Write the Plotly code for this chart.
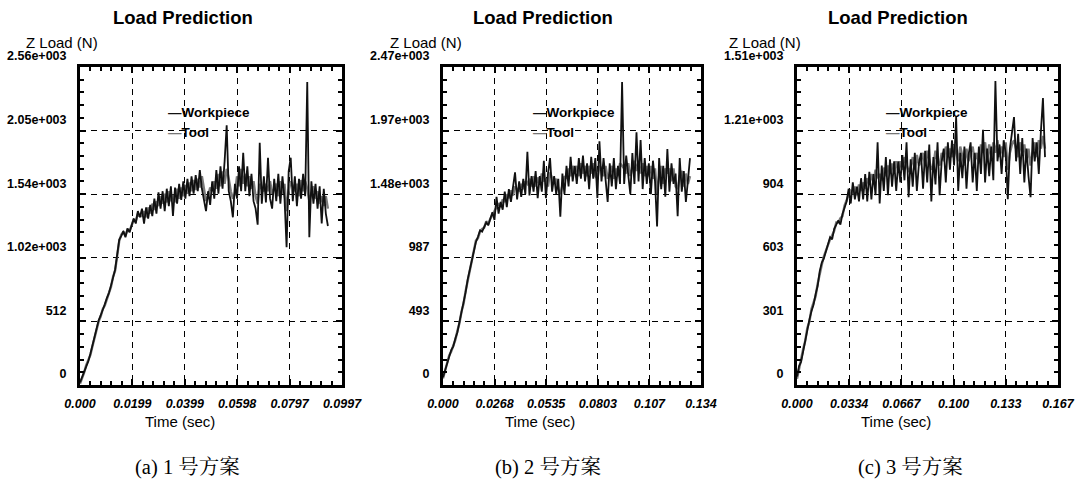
import numpy as np
import plotly.graph_objects as go

# ------------------------------------------------------------------ data
# (a) scheme 1
time_end_a = 0.0943
work_a = [20, 60, 110, 150, 190, 250, 320, 390, 450, 520,
          560, 600, 650, 700, 740, 800, 860, 930, 1050, 1170,
          1200, 1240, 1190, 1260, 1230, 1290, 1340, 1300, 1400, 1350,
          1420, 1300, 1430, 1340, 1450, 1360, 1500, 1380, 1550, 1420,
          1560, 1400, 1580, 1440, 1600, 1360, 1590, 1460, 1620, 1490,
          1640, 1500, 1660, 1520, 1680, 1540, 1690, 1560, 1730, 1580,
          1500, 1400, 1560, 1450, 1640, 1500, 1730, 1540, 1760, 1580,
          1800, 2090, 1560, 1480, 1350, 1620, 1500, 1760, 1560, 1870,
          1560, 1760, 1520, 1700, 1480, 1420, 1290, 1950, 1460, 1680,
          1470, 1830, 1500, 1420, 1660, 1480, 1700, 1460, 1680, 1500,
          1110, 1720, 1830, 1480, 1680, 1440, 1660, 1500, 1700, 1520,
          2440, 1190, 1640, 1460, 1620, 1420, 1600, 1300, 1580, 1380,
          1280]
tool_a = [10, 50, 100, 160, 200, 240, 310, 380, 460, 510,
          550, 610, 640, 690, 750, 790, 870, 920, 1040, 1160,
          1210, 1230, 1200, 1250, 1240, 1280, 1330, 1320, 1380, 1360,
          1360, 1400, 1350, 1430, 1380, 1460, 1410, 1480, 1440, 1520,
          1460, 1540, 1470, 1560, 1480, 1530, 1470, 1580, 1500, 1590,
          1520, 1610, 1540, 1630, 1560, 1650, 1570, 1660, 1590, 1680,
          1560, 1480, 1520, 1590, 1560, 1640, 1580, 1700, 1600, 1720,
          1620, 1740, 1660, 1560, 1500, 1540, 1680, 1600, 1740, 1620,
          1700, 1600, 1680, 1580, 1640, 1520, 1460, 1620, 1580, 1560,
          1620, 1560, 1640, 1540, 1580, 1620, 1520, 1640, 1540, 1620,
          1400, 1560, 1640, 1600, 1560, 1620, 1520, 1650, 1560, 1640,
          1580, 1480, 1540, 1600, 1500, 1560, 1460, 1520, 1440, 1520,
          1420]
xmax_a, ymax_a = 0.09966, 2560
xticks_a = ["0.000", "0.0199", "0.0399", "0.0598", "0.0797", "0.0997"]
yticks_a = ["0", "512", "1.02e+003", "1.54e+003", "2.05e+003", "2.56e+003"]

# (b) scheme 2
time_end_b = 0.1281
work_b = [60, 120, 170, 220, 270, 300, 360, 410, 490, 560,
          640, 720, 820, 900, 970, 1060, 1110, 1150, 1200, 1190,
          1230, 1260, 1240, 1300, 1340, 1280, 1460, 1330, 1420, 1360,
          1500, 1380, 1520, 1420, 1560, 1650, 1440, 1580, 1460, 1600,
          1480, 1810, 1470, 1620, 1500, 1660, 1450, 1620, 1500, 1740,
          1450, 1640, 1760, 1500, 1620, 1480, 1600, 1305, 1640, 1480,
          1700, 1540, 1770, 1580, 1700, 1560, 1760, 1600, 1780, 1580,
          1720, 1520, 1770, 1600, 1760, 1450, 1890, 1580, 1760, 1560,
          1420, 1720, 1540, 1760, 1520, 1700, 1560, 2350, 1560, 1780,
          1620, 1480, 1800, 1560, 1960, 1580, 1900, 1520, 1760, 1560,
          1720, 1480, 1740, 1580, 1230, 1760, 1520, 1700, 1460, 1830,
          1500, 1720, 1560, 1640, 1310, 1760, 1500, 1660, 1420, 1600,
          1760]
tool_b = [50, 110, 180, 230, 260, 310, 350, 420, 480, 570,
          630, 730, 810, 890, 980, 1050, 1120, 1140, 1190, 1210,
          1220, 1270, 1250, 1290, 1320, 1360, 1380, 1410, 1380, 1440,
          1420, 1480, 1450, 1510, 1470, 1540, 1520, 1510, 1560, 1520,
          1580, 1560, 1600, 1540, 1620, 1540, 1610, 1560, 1640, 1580,
          1600, 1540, 1650, 1600, 1560, 1600, 1520, 1480, 1560, 1620,
          1600, 1680, 1620, 1700, 1640, 1700, 1620, 1720, 1640, 1700,
          1620, 1700, 1640, 1720, 1620, 1600, 1700, 1680, 1620, 1700,
          1600, 1640, 1700, 1600, 1680, 1620, 1720, 1700, 1680, 1640,
          1720, 1620, 1680, 1740, 1660, 1740, 1640, 1720, 1620, 1700,
          1620, 1700, 1600, 1680, 1480, 1620, 1700, 1560, 1680, 1640,
          1680, 1580, 1680, 1540, 1520, 1620, 1660, 1540, 1640, 1560,
          1620]
xmax_b, ymax_b = 0.1338, 2467
xticks_b = ["0.000", "0.0268", "0.0535", "0.0803", "0.107", "0.134"]
yticks_b = ["0", "493", "987", "1.48e+003", "1.97e+003", "2.47e+003"]

# (c) scheme 3
time_end_c = 0.1585
work_c = [40, 90, 110, 160, 220, 260, 310, 350, 380, 430,
          470, 540, 580, 600, 630, 660, 700, 690, 740, 760,
          780, 760, 810, 840, 870, 930, 860, 960, 880, 940,
          870, 980, 880, 1000, 870, 1010, 880, 1000, 900, 1150,
          860, 1040, 920, 1080, 900, 1070, 940, 1060, 920, 1060,
          960, 1090, 970, 1150, 890, 1070, 940, 1100, 920, 1050,
          1100, 930, 1110, 960, 1140, 870, 1080, 950, 1150, 900,
          1060, 1120, 960, 1150, 1020, 1160, 1040, 1270, 920, 1100,
          980, 1130, 930, 1090, 1150, 960, 1100, 920, 1130, 1000,
          1210, 960, 1120, 990, 1130, 970, 1440, 1060, 1140, 1000,
          1160, 1100, 880, 1120, 1200, 1270, 1060, 1190, 1000, 1170,
          960, 1120, 990, 890, 1170, 1060, 1150, 1000, 1200, 1360,
          1080]
tool_c = [30, 80, 130, 170, 210, 270, 300, 360, 390, 420,
          480, 530, 570, 610, 640, 670, 690, 710, 730, 770,
          770, 790, 800, 850, 880, 900, 920, 910, 940, 900,
          950, 920, 960, 930, 980, 950, 1000, 960, 1020, 980,
          1000, 970, 1030, 990, 1040, 1000, 1050, 1010, 1060, 1010,
          1060, 1020, 1080, 1040, 1010, 1030, 1080, 1020, 1090, 1040,
          1060, 1100, 1040, 1110, 1060, 1020, 1040, 1110, 1060, 1040,
          1100, 1060, 1130, 1080, 1120, 1080, 1140, 1100, 1060, 1130,
          1080, 1040, 1120, 1060, 1100, 1130, 1060, 1100, 1050, 1140,
          1100, 1150, 1060, 1140, 1080, 1150, 1100, 1160, 1080, 1130,
          1080, 1150, 1020, 1100, 1140, 1160, 1120, 1080, 1150, 1100,
          1140, 1060, 1120, 1040, 1100, 1150, 1080, 1160, 1120, 1180,
          1120]
xmax_c, ymax_c = 0.1668, 1507
xticks_c = ["0.000", "0.0334", "0.0667", "0.100", "0.133", "0.167"]
yticks_c = ["0", "301", "603", "904", "1.21e+003", "1.51e+003"]

captions = ["(a) 1 号方案", "(b) 2 号方案", "(c) 3 号方案"]
chart_title = "Load Prediction"
y_title = "Z Load (N)"
x_title = "Time (sec)"
series_names = ["Workpiece", "Tool"]

# ------------------------------------------------------------------ layout
W, H = 1078, 480
SANS = "Liberation Sans, Arial, sans-serif"
SERIF = "Liberation Serif, Times New Roman, Noto Serif CJK SC, Noto Sans CJK SC, serif"

panels = [
    dict(work=work_a, tool=tool_a, t_end=time_end_a, xmax=xmax_a, ymax=ymax_a,
         xt=xticks_a, yt=yticks_a, px=(80, 342), title_x=183, zl_x=24, time_x=180, cap_x=188, leg_x=166),
    dict(work=work_b, tool=tool_b, t_end=time_end_b, xmax=xmax_b, ymax=ymax_b,
         xt=xticks_b, yt=yticks_b, px=(443, 701), title_x=543, zl_x=388, time_x=540, cap_x=548, leg_x=531),
    dict(work=work_c, tool=tool_c, t_end=time_end_c, xmax=xmax_c, ymax=ymax_c,
         xt=xticks_c, yt=yticks_c, px=(797, 1058), title_x=898, zl_x=727, time_x=896, cap_x=910, leg_x=884),
]
PLOT_TOP, PLOT_BOT = 67, 385


def fx(px):
    return px / W


def fy(py):
    return 1 - py / H


fig = go.Figure()
annotations = []
for k, p in enumerate(panels):
    sfx = "" if k == 0 else str(k + 1)
    xa, ya = "x" + sfx, "y" + sfx
    t = np.linspace(0, p["t_end"], len(p["work"]))
    tt = np.linspace(0, p["t_end"], len(p["tool"]))
    # Tool drawn underneath (gray, wider), Workpiece on top (black)
    fig.add_trace(go.Scatter(x=tt, y=p["tool"], mode="lines", name=series_names[1],
                             line=dict(color="#7a7a7a", width=2.4), xaxis=xa, yaxis=ya,
                             showlegend=False))
    fig.add_trace(go.Scatter(x=t, y=p["work"], mode="lines", name=series_names[0],
                             line=dict(color="#111111", width=1.8), xaxis=xa, yaxis=ya,
                             showlegend=False))

    xstep = p["xmax"] / 5
    ystep = p["ymax"] / 5
    common = dict(showline=True, linewidth=3, linecolor="black", mirror="allticks",
                  ticks="inside", ticklen=6, tickwidth=2, tickcolor="black",
                  showgrid=True, gridcolor="black", gridwidth=1.3, griddash="6px,5px",
                  zeroline=False, automargin=False)
    fig.layout["xaxis" + sfx] = dict(
        common, domain=[fx(p["px"][0]), fx(p["px"][1])], anchor=ya,
        range=[0, p["xmax"]], tickvals=[i * xstep for i in range(6)], ticktext=p["xt"],
        tickfont=dict(family=SANS, size=12.5, color="black", weight="bold", style="italic"),
        ticklabelstandoff=5,
        minor=dict(dtick=xstep / 5, tick0=0, ticks="inside", ticklen=4, tickwidth=1.5,
                   tickcolor="black", showgrid=False))
    fig.layout["yaxis" + sfx] = dict(
        common, domain=[fy(PLOT_BOT), fy(PLOT_TOP)], anchor=xa,
        range=[0, p["ymax"]], tickvals=[i * ystep for i in range(6)], ticktext=p["yt"],
        tickfont=dict(family=SANS, size=12.5, color="black", weight="bold"),
        ticklabelstandoff=8, ticklabelshift=-11,
        minor=dict(dtick=ystep / 5, tick0=0, ticks="inside", ticklen=4, tickwidth=1.5,
                   tickcolor="black", showgrid=False))

    annotations += [
        dict(text="<b>" + chart_title + "</b>", x=fx(p["title_x"]), y=fy(18),
             font=dict(family=SANS, size=18.5, color="black")),
        dict(text=y_title, x=fx(p["zl_x"]), y=fy(42), xanchor="left",
             font=dict(family=SANS, size=15, color="black")),
        dict(text=x_title, x=fx(p["time_x"]), y=fy(421),
             font=dict(family=SANS, size=15, color="black")),
        dict(text=captions[k], x=fx(p["cap_x"]), y=fy(467),
             font=dict(family=SERIF, size=20.5, color="black")),
        dict(text="<span style='color:#111111'>—</span>" + series_names[0],
             x=fx(p["leg_x"]), y=fy(113), xanchor="left",
             font=dict(family=SANS, size=13.5, color="black", weight="bold")),
        dict(text="<span style='color:#777777'>—</span>" + series_names[1],
             x=fx(p["leg_x"]), y=fy(132), xanchor="left",
             font=dict(family=SANS, size=13.5, color="black", weight="bold")),
    ]

for a in annotations:
    a.update(xref="paper", yref="paper", showarrow=False, yanchor="middle",
             xanchor=a.get("xanchor", "center"))

fig.update_layout(width=W, height=H, margin=dict(l=0, r=0, t=0, b=0),
                  paper_bgcolor="white", plot_bgcolor="white",
                  annotations=annotations, showlegend=False)

fig.write_html("out.html")
